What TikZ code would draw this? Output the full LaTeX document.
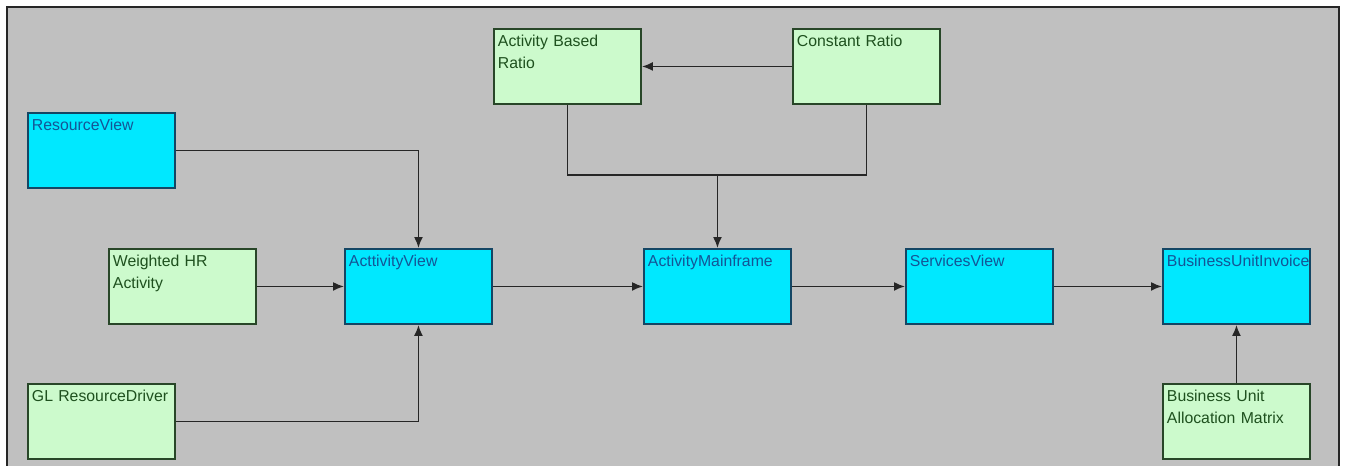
\documentclass[tikz,border=0pt]{standalone}
\usepackage{fontspec}
\setmainfont{Liberation Sans}
\usetikzlibrary{arrows.meta, calc, positioning}
\definecolor{fondoGris}{RGB}{192,192,192}
\definecolor{viewCyan}{RGB}{0,232,255}
\definecolor{viewEdge}{RGB}{20,70,100}
\definecolor{viewText}{RGB}{20,85,150}
\definecolor{driverGreen}{RGB}{204,250,204}
\definecolor{driverEdge}{RGB}{40,70,40}
\definecolor{driverText}{RGB}{30,80,30}
\newcommand{\boxfont}{\fontsize{9}{12.2}\selectfont\hyphenpenalty=10000\relax}

\begin{document}
\begin{tikzpicture}[x=0.02cm, y=-0.02cm,
    box/.style={rectangle, draw, line width=1.1pt, anchor=north west,
        minimum width=2.94cm, minimum height=1.5cm,
        text width=2.78cm, align=left, inner xsep=0.08cm, inner ysep=0.08cm,
        text height=0.28cm, text depth=1.06cm, font=\boxfont},
    view/.style={box, fill=viewCyan, draw=viewEdge, text=viewText},
    driver/.style={box, fill=driverGreen, draw=driverEdge, text=driverText},
    link/.style={line width=1pt, draw=black!85},
    flow/.style={link, -{Latex[length=2.2mm, width=1.8mm]}}]

    % 1. MARCO
    \clip (0,0) rectangle (1345,466);
    \fill[white] (0,0) rectangle (1345,466);
    \filldraw[fill=fondoGris, draw=black!85, line width=1.3pt]
    (7,490) -- (7,7) -- (1339,7) -- (1339,490);

    % 2. CAJAS
    \node[view] (rv) at (27,112) {ResourceView};
    \node[driver] (whr) at (108,248) {Weighted HR\\Activity};
    \node[view] (av) at (344,248) {ActtivityView};
    \node[driver] (gl) at (27,383) {GL ResourceDriver};
    \node[driver] (abr) at (493,28) {Activity Based\\Ratio};
    \node[driver] (cr) at (792,28) {Constant Ratio};
    \node[view] (am) at (643,248) {ActivityMainframe};
    \node[view] (sv) at (905,248) {ServicesView};
    \node[view] (bui) at (1162,248) {BusinessUnitInvoice};
    \node[driver] (buam) at (1162,383) {Business Unit\\Allocation Matrix};

    % 3. CONEXIONES
    \draw[flow] (rv.east) -| (av.north);
    \draw[flow] (whr) -- (av);
    \draw[flow] (gl.east) -| (av.south);
    \draw[flow] (av) -- (am);
    \draw[flow] (cr.west) -- (abr.east);

    % Union de las razones
    \coordinate (join) at ([yshift=1.46cm]am.north);
    \draw[link] (abr.south) |- (join) -| (cr.south);
    \draw[flow] (join) -- (am.north);

    \draw[flow] (am) -- (sv);
    \draw[flow] (sv) -- (bui);
    \draw[flow] (buam.north) -- (buam.north |- bui.south);
\end{tikzpicture}
\end{document}
